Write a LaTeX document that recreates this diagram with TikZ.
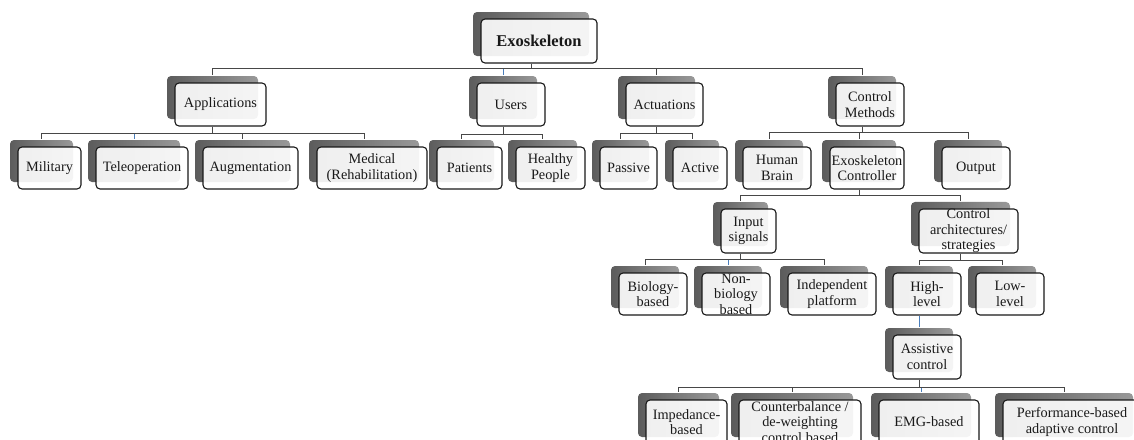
\documentclass[tikz,border=0pt]{standalone}
\usepackage{fontspec}
\setmainfont{Liberation Serif}
\usetikzlibrary{shadows}

\definecolor{linkblue}{RGB}{74,126,187}

\tikzset{
  box/.style={draw=black!90, line width=1.1pt, rounded corners=4pt,
    fill=white, fill opacity=0.9, text opacity=1, text=black!90,
    align=center, inner sep=0pt,
    font=\fontsize{14.3}{15.5}\selectfont,
    general shadow={shadow xshift=-8pt, shadow yshift=7pt, fill opacity=1,
      left color=black!64, right color=black!40}},
  conn/.style={draw=black!72, line width=0.9pt},
  connb/.style={draw=linkblue, line width=0.9pt},
}
% parent-to-child elbow connector, attached at the centre of the shadow plate
\newcommand\treelink[4][conn]{%
  \draw[#1] ([xshift=-8pt]#2.south) -- ++(0,#4) -| ([xshift=-8pt,yshift=7pt]#3.north);}

\begin{document}
\begin{tikzpicture}[x=1pt,y=-1pt]
\path[use as bounding box, clip] (0,0) rectangle (1134,439);

% level 0
\node[box, minimum width=116pt, minimum height=44pt,
  font=\fontsize{16.5}{18}\selectfont\bfseries] (exo) at (539,41) {Exoskeleton};

% level 1
\node[box, minimum width=91pt, minimum height=43pt] (app) at (220.5,104.5) {Applications};
\node[box, minimum width=68pt, minimum height=43pt] (users) at (511,104.5) {Users};
\node[box, minimum width=77pt, minimum height=43pt] (act) at (664.5,104.5) {Actuations};
\node[box, minimum width=68pt, minimum height=43pt] (cm) at (870,104.5) {Control\\Methods};

% level 2
\node[box, minimum width=63pt, minimum height=42pt] (mil) at (49.5,168) {Military};
\node[box, minimum width=92pt, minimum height=42pt] (tele) at (142,168) {Teleoperation};
\node[box, minimum width=95pt, minimum height=42pt] (aug) at (250.5,168) {Augmentation};
\node[box, minimum width=110pt, minimum height=42pt] (med) at (372,168) {Medical\\(Rehabilitation)};
\node[box, minimum width=65pt, minimum height=42pt] (pat) at (469.5,168) {Patients};
\node[box, minimum width=69pt, minimum height=42pt] (hp) at (550.5,168) {Healthy\\People};
\node[box, minimum width=57pt, minimum height=42pt] (pas) at (628.5,168) {Passive};
\node[box, minimum width=54pt, minimum height=42pt] (actv) at (700,168) {Active};
\node[box, minimum width=68pt, minimum height=42pt] (hb) at (777,168) {Human\\Brain};
\node[box, minimum width=74pt, minimum height=42pt] (ec) at (867,168) {Exoskeleton\\Controller};
\node[box, minimum width=68pt, minimum height=42pt] (out) at (976,168) {Output};

% level 3
\node[box, minimum width=55pt, minimum height=44pt] (inp) at (748.5,231) {Input\\signals};
\node[box, minimum width=99pt, minimum height=44pt] (arch) at (968.5,231) {Control\\architectures/\\strategies};

% level 4
\node[box, minimum width=68pt, minimum height=42pt] (bio) at (653,294) {Biology-\\based};
\node[box, minimum width=68pt, minimum height=42pt] (nbio) at (736,294) {Non-\\biology\\based};
\node[box, minimum width=88pt, minimum height=42pt] (ind) at (832,294) {Independent\\platform};
\node[box, minimum width=68pt, minimum height=42pt] (high) at (927,294) {High-\\level};
\node[box, minimum width=68pt, minimum height=42pt] (low) at (1010,294) {Low-\\level};

% level 5
\node[box, minimum width=68pt, minimum height=44pt] (ast) at (927,357) {Assistive\\control};

% level 6
\node[box, minimum width=81pt, minimum height=44pt] (imp) at (686.5,422) {Impedance-\\based};
\node[box, minimum width=122pt, minimum height=44pt] (cb) at (800,422) {Counterbalance /\\de-weighting\\control based};
\node[box, minimum width=100pt, minimum height=44pt] (emg) at (929,422) {EMG-based};
\node[box, minimum width=138pt, minimum height=44pt] (perf) at (1072,422) {Performance-based\\adaptive control};

% connectors (blue ones first, grey ones over them)
\treelink[connb]{exo}{users}{5}
\treelink[connb]{app}{tele}{7}
\treelink[connb]{inp}{nbio}{6}
\treelink[connb]{ast}{emg}{8}
\draw[connb] ([xshift=-8pt]high.south) -- ([xshift=-8pt,yshift=7pt]ast.north);

\treelink{exo}{app}{5}
\treelink{exo}{act}{5}
\treelink{exo}{cm}{5}
\treelink{app}{mil}{7}
\treelink{app}{aug}{7}
\treelink{app}{med}{7}
\treelink{users}{pat}{8}
\treelink{users}{hp}{8}
\treelink{act}{pas}{7}
\treelink{act}{actv}{7}
\treelink{cm}{hb}{6}
\treelink{cm}{ec}{6}
\treelink{cm}{out}{6}
\treelink{ec}{inp}{6}
\treelink{ec}{arch}{6}
\treelink{inp}{bio}{6}
\treelink{inp}{ind}{6}
\treelink{arch}{high}{7}
\treelink{arch}{low}{7}
\treelink{ast}{imp}{8}
\treelink{ast}{cb}{8}
\treelink{ast}{perf}{8}
\end{tikzpicture}
\end{document}
